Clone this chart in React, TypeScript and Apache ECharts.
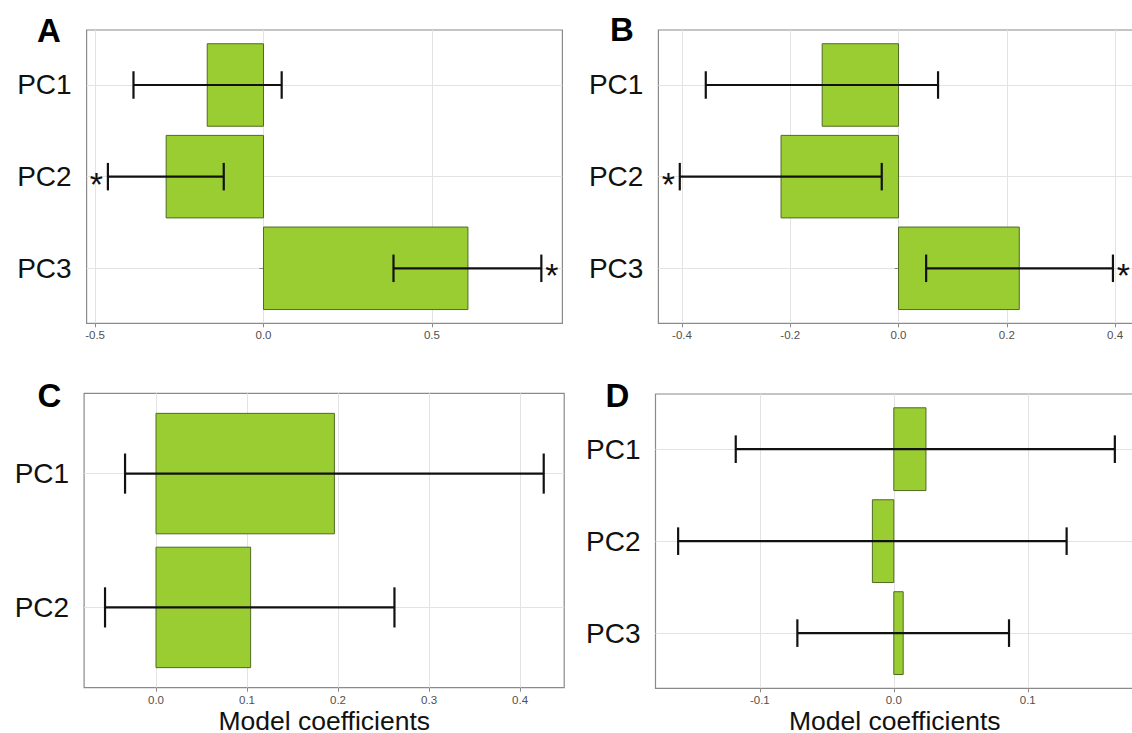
import React, { useEffect, useRef } from 'react';
import * as echarts from 'echarts';

const FONT = '"Liberation Sans", Arial, Helvetica, sans-serif';

// Categories
const cats3 = ['PC1', 'PC2', 'PC3'];
const cats2 = ['PC1', 'PC2'];

// Panel A
const aCoef = [-0.167, -0.289, 0.607];
const aLower = [-0.386, -0.462, 0.386];
const aUpper = [0.054, -0.118, 0.825];
const aSig = [false, true, true];
const aTicks = [-0.5, 0, 0.5];

// Panel B
const bCoef = [-0.141, -0.217, 0.223];
const bLower = [-0.356, -0.404, 0.051];
const bUpper = [0.073, -0.031, 0.396];
const bSig = [false, true, true];
const bTicks = [-0.4, -0.2, 0, 0.2, 0.4];

// Panel C
const cCoef = [0.196, 0.104];
const cLower = [-0.034, -0.056];
const cUpper = [0.426, 0.262];
const cSig = [false, false];
const cTicks = [0, 0.1, 0.2, 0.3, 0.4];

// Panel D
const dCoef = [0.024, -0.016, 0.007];
const dLower = [-0.118, -0.161, -0.072];
const dUpper = [0.165, 0.129, 0.086];
const dSig = [false, false, false];
const dTicks = [-0.1, 0, 0.1];

const letters = ['A', 'B', 'C', 'D'];
const xTitle = 'Model coefficients';

type Panel = {
  cats: string[];
  coef: number[];
  lower: number[];
  upper: number[];
  sig: boolean[];
  ticks: number[];
  min: number;
  max: number;
  grid: { left: number; top: number; width: number; height: number };
  title: boolean;
};

const panels: Panel[] = [
  { cats: cats3, coef: aCoef, lower: aLower, upper: aUpper, sig: aSig, ticks: aTicks, min: -0.5252, max: 0.8875,
    grid: { left: 86.6, top: 30, width: 475.8, height: 293.3 }, title: false },
  { cats: cats3, coef: bCoef, lower: bLower, upper: bUpper, sig: bSig, ticks: bTicks, min: -0.4435, max: 0.4349,
    grid: { left: 658.4, top: 30, width: 475.6, height: 293.3 }, title: false },
  { cats: cats2, coef: cCoef, lower: cLower, upper: cUpper, sig: cSig, ticks: cTicks, min: -0.079, max: 0.4485,
    grid: { left: 84.1, top: 393.3, width: 480.1, height: 294.4 }, title: true },
  { cats: cats3, coef: dCoef, lower: dLower, upper: dUpper, sig: dSig, ticks: dTicks, min: -0.1779, max: 0.1793,
    grid: { left: 655.5, top: 394, width: 478.5, height: 294.3 }, title: true },
];

const letterPos = [
  { x: 49, y: 30.5 },
  { x: 622, y: 29 },
  { x: 49.3, y: 395 },
  { x: 617.5, y: 395 },
];

const titlePos = [
  { x: 324.2, y: 720.5 },
  { x: 894.7, y: 720.5 },
];

const GRIDLINE = '#e3e3e3';
const BORDER = '#8a8a8a';

function buildOption() {
  const grid: any[] = [];
  const xAxis: any[] = [];
  const yAxis: any[] = [];
  const series: any[] = [];

  panels.forEach((p, i) => {
    grid.push({
      ...p.grid,
      show: true,
      borderColor: BORDER,
      borderWidth: 1.2,
      backgroundColor: '#fff',
      containLabel: false,
      outerBoundsMode: 'none',
    });
    xAxis.push({
      type: 'value',
      gridIndex: i,
      min: p.min,
      max: p.max,
      axisLine: { show: false },
      axisTick: { show: true, length: 4, customValues: p.ticks, lineStyle: { color: BORDER, width: 1 } },
      axisLabel: {
        show: true,
        customValues: p.ticks,
        margin: 6,
        fontSize: 11.5,
        fontFamily: FONT,
        color: '#505050',
        formatter: (v: number) => v.toFixed(1),
      },
      splitLine: { show: true, lineStyle: { color: GRIDLINE, width: 1 } },
    });
    const yVals = p.cats.map((_, k) => k + 1);
    yAxis.push({
      type: 'value',
      gridIndex: i,
      inverse: true,
      min: 0.4,
      max: p.cats.length + 0.6,
      axisLine: { show: false },
      axisTick: { show: true, length: 4, customValues: yVals, lineStyle: { color: BORDER, width: 1 } },
      axisLabel: {
        show: true,
        customValues: yVals,
        margin: 15,
        fontSize: 28,
        fontFamily: FONT,
        color: '#111',
        formatter: (v: number) => p.cats[Math.round(v) - 1] ?? '',
      },
      splitLine: { show: true, lineStyle: { color: GRIDLINE, width: 1 } },
    });

    series.push({
      type: 'custom',
      name: 'coef' + i,
      xAxisIndex: i,
      yAxisIndex: i,
      encode: { x: 0, y: 1 },
      data: p.coef.map((v, k) => [v, k + 1]),
      renderItem: (params: any, api: any) => {
        const v = api.value(0);
        const y = api.value(1);
        const p0 = api.coord([0, y]);
        const p1 = api.coord([v, y]);
        const h = api.size([0, 0.9])[1];
        return {
          type: 'rect',
          shape: { x: Math.min(p0[0], p1[0]), y: p0[1] - h / 2, width: Math.abs(p1[0] - p0[0]), height: h },
          style: { fill: '#9ACD32', stroke: '#4F6A24', lineWidth: 1 },
        };
      },
    });

    series.push({
      type: 'custom',
      name: 'err' + i,
      xAxisIndex: i,
      yAxisIndex: i,
      encode: { x: [0, 1], y: 2 },
      data: p.lower.map((lo, k) => [lo, p.upper[k], k + 1, p.sig[k] ? 1 : 0, p.coef[k]]),
      renderItem: (params: any, api: any) => {
        const lo = api.value(0);
        const hi = api.value(1);
        const y = api.value(2);
        const sig = api.value(3);
        const c = api.value(4);
        const a = api.coord([lo, y]);
        const b = api.coord([hi, y]);
        const cap = api.size([0, 0.3])[1] / 2;
        const ls = { stroke: '#111', lineWidth: 2.2 };
        const children: any[] = [
          { type: 'line', shape: { x1: a[0], y1: a[1], x2: b[0], y2: b[1] }, style: ls },
          { type: 'line', shape: { x1: a[0], y1: a[1] - cap, x2: a[0], y2: a[1] + cap }, style: ls },
          { type: 'line', shape: { x1: b[0], y1: b[1] - cap, x2: b[0], y2: b[1] + cap }, style: ls },
        ];
        if (sig) {
          const sx = c < 0 ? a[0] - 11.5 : b[0] + 10.5;
          children.push({
            type: 'text',
            x: sx,
            y: a[1] + 7,
            style: { text: '*', fill: '#111', font: `34px ${FONT}`, textAlign: 'center', textVerticalAlign: 'middle' },
          });
        }
        return { type: 'group', children };
      },
    });
  });

  const graphic: any[] = letters.map((t, i) => ({
    type: 'text',
    x: letterPos[i].x,
    y: letterPos[i].y,
    style: { text: t, fill: '#000', font: `bold 33px ${FONT}`, textAlign: 'center', textVerticalAlign: 'middle' },
  }));
  titlePos.forEach((tp) => {
    graphic.push({
      type: 'text',
      x: tp.x,
      y: tp.y,
      style: {
        text: xTitle,
        fill: '#111',
        font: `26.5px ${FONT}`,
        lineHeight: 22,
        textAlign: 'center',
        textVerticalAlign: 'middle',
      },
    });
  });

  return {
    animation: false,
    backgroundColor: '#fff',
    grid,
    xAxis,
    yAxis,
    series,
    graphic,
  };
}

export default function App() {
  const ref = useRef<HTMLDivElement>(null);
  useEffect(() => {
    if (!ref.current) return;
    const chart = echarts.init(ref.current, undefined, { renderer: 'svg' });
    chart.setOption(buildOption() as any);
    return () => chart.dispose();
  }, []);
  return (
    <div
      ref={ref}
      style={{ position: 'fixed', left: 0, top: 0, width: 1132, height: 733, background: '#fff', overflow: 'hidden' }}
    />
  );
}
